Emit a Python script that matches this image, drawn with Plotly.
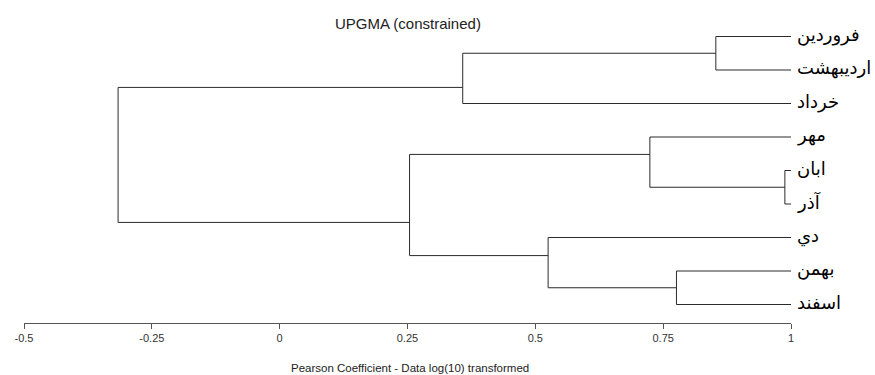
import plotly.graph_objects as go

# ---- data -------------------------------------------------------------
leaf_labels = ["فروردین", "اردیبهشت", "خرداد", "مهر", "ابان", "آذر", "دي", "بهمن", "اسفند"]
leaf_level = 1.0  # leaves sit at coefficient 1

# merges: (child_a, child_b) -> new node index = 9, 10, ...
merge_left = [0, 9, 4, 3, 7, 6, 12, 10]
merge_right = [1, 2, 5, 11, 8, 13, 14, 15]
merge_coef = [0.853, 0.358, 0.988, 0.724, 0.776, 0.525, 0.254, -0.316]
# row (in leaf units) at which each merged node is joined to its parent
merge_row = [0.5, 1.52, 4.5, 3.52, 7.5, 6.54, 5.55, 3.53]

tick_vals = [-0.5, -0.25, 0, 0.25, 0.5, 0.75, 1]
tick_text = ["-0.5", "-0.25", "0", "0.25", "0.5", "0.75", "1"]

title_text = "UPGMA (constrained)"
x_title = "Pearson Coefficient - Data log(10) transformed"

# ---- build dendrogram geometry from the data ---------------------------
n_leaves = len(leaf_labels)
node_x = {i: leaf_level for i in range(n_leaves)}
node_y = {i: float(i) for i in range(n_leaves)}
for k, (a, b) in enumerate(zip(merge_left, merge_right)):
    node_x[n_leaves + k] = merge_coef[k]
    node_y[n_leaves + k] = merge_row[k]

xs, ys = [], []
for k, (a, b) in enumerate(zip(merge_left, merge_right)):
    px = merge_coef[k]
    # vertical bar
    xs += [px, px, None]
    ys += [node_y[a], node_y[b], None]
    # horizontal branches to children
    for c in (a, b):
        xs += [px, node_x[c], None]
        ys += [node_y[c], node_y[c], None]

fig = go.Figure()
fig.add_trace(go.Scatter(x=xs, y=ys, mode="lines",
                         line=dict(color="#2b2b2b", width=1),
                         hoverinfo="skip", showlegend=False))

annotations = []
for i, lab in enumerate(leaf_labels):
    annotations.append(dict(x=leaf_level, y=i, xref="x", yref="y", text=lab,
                            showarrow=False, xanchor="left", yanchor="middle",
                            xshift=4, yshift=2,
                            font=dict(family="DejaVu Sans", size=18, color="#000")))
annotations.append(dict(x=0.5, y=1, xref="paper", yref="paper", text=title_text,
                        showarrow=False, xanchor="center", yanchor="middle", yshift=-3,
                        font=dict(family="Arial", size=15, color="#222")))
annotations.append(dict(x=0.503, y=0, xref="paper", yref="paper", text=x_title,
                        showarrow=False, xanchor="center", yanchor="middle", yshift=-45,
                        font=dict(family="Arial", size=11.5, color="#222")))

top_margin = 20
bottom_margin = 52
plot_h = 375 - top_margin - bottom_margin
row_px = 33.5
y_top = -(36.5 - top_margin) / row_px
y_bottom = y_top + plot_h / row_px

fig.update_layout(
    width=875, height=375,
    margin=dict(l=24, r=84, t=top_margin, b=bottom_margin),
    plot_bgcolor="white", paper_bgcolor="white",
    annotations=annotations,
    xaxis=dict(range=[-0.5, 1], tickvals=tick_vals, ticktext=tick_text,
               showline=True, linecolor="#555", linewidth=1,
               ticks="outside", ticklen=5, tickcolor="#555",
               showgrid=False, zeroline=False,
               tickfont=dict(family="Arial", size=11, color="#333")),
    yaxis=dict(range=[y_bottom, y_top], visible=False, showgrid=False, zeroline=False),
)

fig.write_html("out.html")
